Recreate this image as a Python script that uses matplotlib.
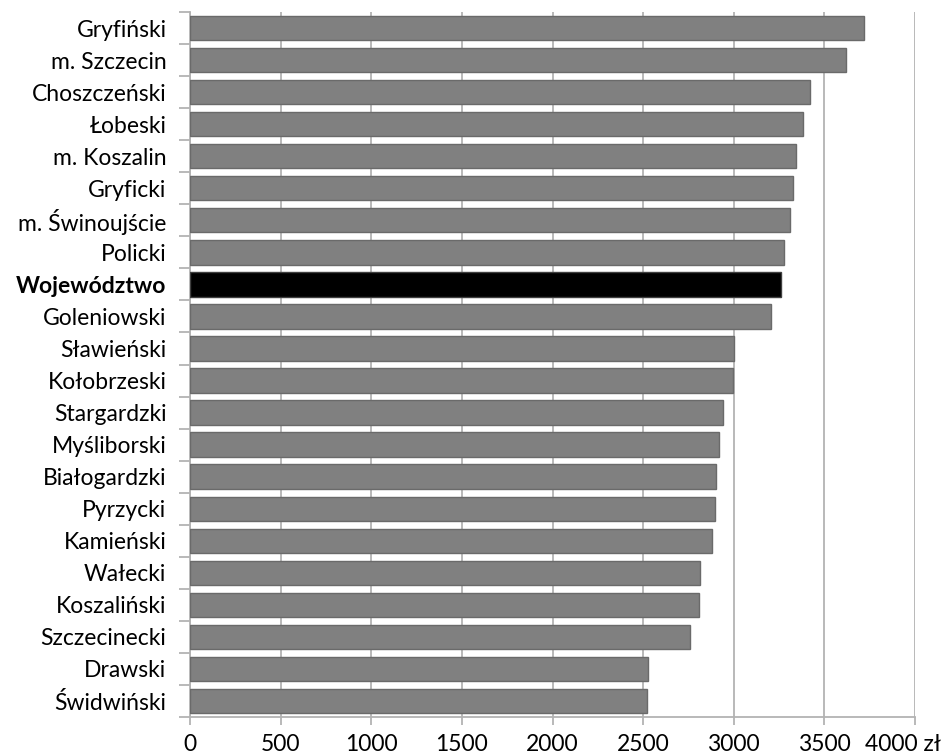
import matplotlib
matplotlib.use("Agg")
import matplotlib.pyplot as plt
import matplotlib.transforms as mtransforms
import numpy as np

categories = ["Gryfiński", "m. Szczecin", "Choszczeński", "Łobeski", "m. Koszalin",
              "Gryficki", "m. Świnoujście", "Policki", "Województwo", "Goleniowski",
              "Sławieński", "Kołobrzeski", "Stargardzki", "Myśliborski", "Białogardzki",
              "Pyrzycki", "Kamieński", "Wałecki", "Koszaliński", "Szczecinecki",
              "Drawski", "Świdwiński"]
values = [3718, 3617, 3419, 3380, 3342, 3329, 3309, 3277, 3261, 3204,
          3003, 2996, 2943, 2921, 2904, 2895, 2879, 2814, 2810, 2761, 2526, 2520]
highlight = "Województwo"
xticks = [0, 500, 1000, 1500, 2000, 2500, 3000, 3500, 4000]
xtick_labels = ["0", "500", "1000", "1500", "2000", "2500", "3000", "3500", "4000 zł"]

plt.rcParams['font.family'] = ['Lato', 'DejaVu Sans']

fig = plt.figure(figsize=(9.42, 7.55), dpi=100)
ax = fig.add_axes([190/942, 38/755, 725/942, 705/755])

n = len(categories)
y = np.arange(n)
colors = ["#000000" if c == highlight else "#808080" for c in categories]
edges = ["#404040" if c == highlight else "#6a6a6a" for c in categories]
ax.barh(y, values, height=0.76, color=colors, edgecolor=edges, linewidth=1.0, zorder=3)

ax.set_xlim(0, 4000)
ax.set_ylim(n - 0.5, -0.5)

ax.set_xticks(xticks)
ax.set_xticklabels(xtick_labels, fontsize=16.5)
ax.xaxis.grid(True, color="#b3b3b3", linewidth=1.3, zorder=0)
ax.tick_params(axis='x', length=6, color="#b3b3b3", width=1.3, pad=6)
last = ax.get_xticklabels()[-1]
last.set_horizontalalignment('right')
last.set_transform(last.get_transform() + mtransforms.ScaledTranslation(26/100, 0, fig.dpi_scale_trans))

# y tick labels at category centers, tick marks at category boundaries
ax.set_yticks(y)
ax.set_yticklabels(categories, fontsize=16.5)
ax.tick_params(axis='y', length=0, pad=17)
for lbl in ax.get_yticklabels():
    if lbl.get_text() == highlight:
        lbl.set_fontweight('bold')
ax.set_yticks(np.arange(n + 1) - 0.5, minor=True)
ax.tick_params(axis='y', which='minor', length=8, color="#b3b3b3", width=1.3)

for s in ["top", "right"]:
    ax.spines[s].set_visible(False)
for s in ["left", "bottom"]:
    ax.spines[s].set_color("#b3b3b3")
    ax.spines[s].set_linewidth(1.3)

fig.savefig("out.png", dpi=100)
